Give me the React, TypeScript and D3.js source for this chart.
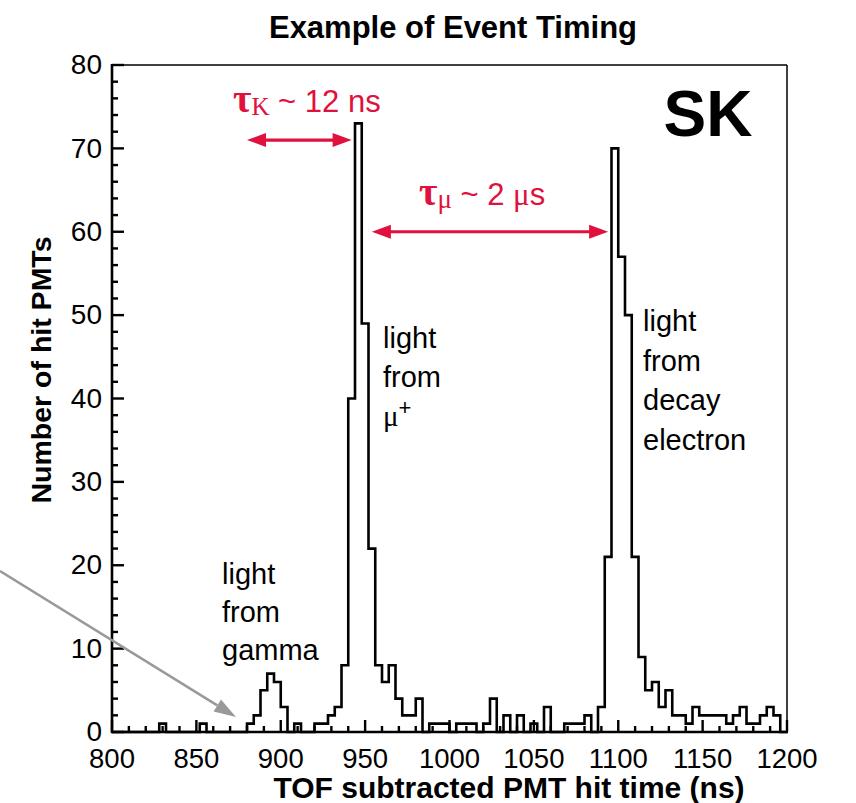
import React from "react";
import * as d3 from "d3";

// ---- data ----
const binStart = 800;
const binWidth = 4; // ns
const counts = [
  0, 0, 0, 0, 0, 0, 0, 1, 0, 0,
  0, 0, 0, 1, 0, 0, 0, 0, 0, 0,
  1, 2, 5, 7, 6, 3, 0, 1, 0, 0,
  1, 1, 2, 3, 8, 40, 73, 49, 22, 8,
  6, 8, 4, 2, 2, 4, 0, 1, 1, 1,
  0, 1, 1, 1, 0, 1, 4, 0, 2, 0,
  2, 0, 1, 0, 3, 0, 0, 1, 1, 1,
  2, 0, 3, 21, 70, 57, 50, 21, 9, 5,
  6, 3, 5, 2, 2, 1, 3, 2, 2, 2,
  2, 1, 2, 3, 1, 1, 2, 3, 2, 0,
];
const xMajorTicks = [800, 850, 900, 950, 1000, 1050, 1100, 1150, 1200];
const xMinorTicks = d3.range(800, 1201, 10);
const yMajorTicks = [0, 10, 20, 30, 40, 50, 60, 70, 80];
const yMinorTicks = d3.range(0, 81, 2);

const titleText = "Example of Event Timing";
const xTitle = "TOF subtracted PMT hit time (ns)";
const yTitle = "Number of hit PMTs";
const labelMu = ["light", "from"];
const labelElectron = ["light", "from", "decay", "electron"];
const labelGamma = ["light", "from", "gamma"];

const RED = "#e0113c";
const SANS = "'Liberation Sans', Arial, Helvetica, sans-serif";
const SERIF = "'Liberation Serif', 'Times New Roman', serif";

export default function App() {
  const W = 856, H = 803;
  const x = d3.scaleLinear().domain([800, 1200]).range([112, 787]);
  const y = d3.scaleLinear().domain([0, 80]).range([732, 65]);

  const pts: [number, number][] = [[binStart, 0]];
  counts.forEach((c, i) => {
    pts.push([binStart + i * binWidth, c]);
    pts.push([binStart + (i + 1) * binWidth, c]);
  });
  pts.push([1200, 0]);
  const line = d3.line<[number, number]>().x((d) => x(d[0])).y((d) => y(d[1]));
  const histPath = line(pts) || "";

  const arrow = (x1: number, x2: number, yy: number) => {
    const hl = 19, hw = 7;
    return (
      <g>
        <line x1={x1 + hl - 2} x2={x2 - hl + 2} y1={yy} y2={yy} stroke={RED} strokeWidth={3.2} />
        <path d={`M${x1},${yy} L${x1 + hl},${yy - hw} L${x1 + hl},${yy + hw} Z`} fill={RED} />
        <path d={`M${x2},${yy} L${x2 - hl},${yy - hw} L${x2 - hl},${yy + hw} Z`} fill={RED} />
      </g>
    );
  };

  // gray arrow
  const gx1 = 0, gy1 = 571, gx2 = 236, gy2 = 717;
  const ang = Math.atan2(gy2 - gy1, gx2 - gx1);
  const ghl = 22, ghw = 7;
  const bx = gx2 - ghl * Math.cos(ang), by = gy2 - ghl * Math.sin(ang);
  const px = -Math.sin(ang) * ghw, py = Math.cos(ang) * ghw;

  const LBL = 29;

  return (
    <svg width={W} height={H} style={{ position: "absolute", left: 0, top: 0, background: "#fff" }} fontFamily={SANS}>
      <rect x={0} y={0} width={W} height={H} fill="#fff" />
      {/* title */}
      <text x={453} y={38} textAnchor="middle" fontSize={31} fontWeight="bold">{titleText}</text>

      {/* frame */}
      <line x1={112} x2={787} y1={65} y2={65} stroke="#000" strokeWidth={1.5} />
      <line x1={787} x2={787} y1={65} y2={732} stroke="#000" strokeWidth={1.5} />

      {/* histogram */}
      <path d={histPath} fill="none" stroke="#000" strokeWidth={2.6} strokeLinejoin="miter" />

      {/* axes */}
      <line x1={112} x2={112} y1={64} y2={733} stroke="#000" strokeWidth={2.6} />
      <line x1={111} x2={788} y1={732} y2={732} stroke="#000" strokeWidth={2.6} />
      {yMinorTicks.map((t) => (
        <line key={"ym" + t} x1={112} x2={112 + (t % 10 === 0 ? 12 : 6)} y1={y(t)} y2={y(t)} stroke="#000" strokeWidth={2.4} />
      ))}
      {xMinorTicks.map((t) => (
        <line key={"xm" + t} x1={x(t)} x2={x(t)} y1={732} y2={732 - (t % 50 === 0 ? 12 : 6)} stroke="#000" strokeWidth={2.4} />
      ))}
      {yMajorTicks.map((t) => (
        <text key={"yl" + t} x={102} y={y(t)} dy="0.33em" textAnchor="end" fontSize={28}>{t}</text>
      ))}
      {xMajorTicks.map((t) => (
        <text key={"xl" + t} x={x(t)} y={768} textAnchor="middle" fontSize={27.5}>{t}</text>
      ))}

      {/* axis titles */}
      <text x={509} y={798} textAnchor="middle" fontSize={30} fontWeight="bold">{xTitle}</text>
      <text transform={`translate(51,370) rotate(-90)`} textAnchor="middle" fontSize={28.5} fontWeight="bold">{yTitle}</text>

      {/* SK */}
      <text x={708} y={136} textAnchor="middle" fontSize={64} fontWeight="bold">SK</text>

      {/* red annotations */}
      <text x={233} y={112} fill={RED}>
        <tspan fontFamily={SERIF} fontSize={40} fontWeight="bold">τ</tspan>
        <tspan fontFamily={SERIF} fontSize={25} dy={3}>K</tspan>
        <tspan fontSize={31} dy={-3}> ~ 12 ns</tspan>
      </text>
      {arrow(x(880), x(942), y(71))}
      <text x={419} y={205} fill={RED}>
        <tspan fontFamily={SERIF} fontSize={40} fontWeight="bold">τ</tspan>
        <tspan fontFamily={SERIF} fontSize={27} dy={3}>μ</tspan>
        <tspan fontSize={31} dy={-3}> ~ 2 </tspan>
        <tspan fontFamily={SERIF} fontSize={31}>μ</tspan>
        <tspan fontSize={31}>s</tspan>
      </text>
      {arrow(x(954), x(1094), y(60))}

      {/* black labels */}
      {labelMu.map((s, i) => (
        <text key={"lm" + i} x={383} y={348 + i * 39} fontSize={LBL}>{s}</text>
      ))}
      <text x={383} y={426} fontSize={LBL}>
        <tspan fontFamily={SERIF} fontSize={29}>μ</tspan>
        <tspan fontSize={22} dy={-11}>+</tspan>
      </text>
      {labelElectron.map((s, i) => (
        <text key={"le" + i} x={643} y={331 + i * 39.5} fontSize={LBL}>{s}</text>
      ))}
      {labelGamma.map((s, i) => (
        <text key={"lg" + i} x={222} y={584 + i * 38} fontSize={LBL}>{s}</text>
      ))}

      {/* gray arrow */}
      <line x1={gx1} y1={gy1} x2={bx} y2={by} stroke="#999" strokeWidth={2.5} />
      <path d={`M${gx2},${gy2} L${bx + px},${by + py} L${bx - px},${by - py} Z`} fill="#999" />
    </svg>
  );
}
